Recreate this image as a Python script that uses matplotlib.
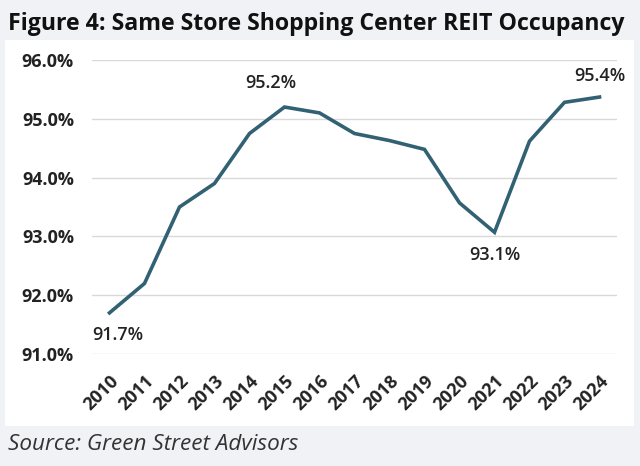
import matplotlib
matplotlib.use("Agg")
import matplotlib.pyplot as plt
from matplotlib.patches import Rectangle
from matplotlib.transforms import ScaledTranslation

# data
years     = [2010, 2011, 2012, 2013, 2014, 2015, 2016, 2017, 2018, 2019, 2020, 2021, 2022, 2023, 2024]
occupancy = [91.7, 92.2, 93.5, 93.9, 94.75, 95.2, 95.1, 94.75, 94.63, 94.48, 93.57, 93.07, 94.62, 95.28, 95.37]
yticks    = [91.0, 92.0, 93.0, 94.0, 95.0, 96.0]
# which points get a value label, and where (offset in points)
labels    = {2010: (6, -16), 2015: (-10, 17), 2021: (0, -16), 2024: (0, 15)}

bg_gray   = "#f1f2f6"
line_col  = "#336174"
font      = "Open Sans"

fig = plt.figure(figsize=(6.4, 4.66), dpi=100)
fig.patch.set_facecolor(bg_gray)

# white panel behind the chart
panel = Rectangle((5/640, 1 - 426/466), 629/640, 386/466,
                  transform=fig.transFigure, facecolor="white", edgecolor="none")
fig.add_artist(panel)
panel.set_zorder(-1)

ax = fig.add_axes([92/640, 1 - 354/466, 525/640, 294/466])
ax.set_facecolor("none")
ax.set_zorder(2)

x = list(range(len(years)))
ax.plot(x, occupancy, color=line_col, lw=2.6, solid_joinstyle="miter", zorder=3)

for i, (yr, val) in enumerate(zip(years, occupancy)):
    if yr in labels:
        ax.annotate(f"{val:.1f}%", (i, val), xytext=labels[yr], textcoords="offset points",
                    ha="center", va="center", fontsize=13, family=font,
                    fontweight="semibold", color="#222222")

ax.set_xlim(-0.5, len(years) - 0.5)
ax.set_ylim(91, 96)
ax.set_yticks(yticks)
ax.set_yticklabels([f"{t:.1f}%" for t in yticks], family=font, fontweight="bold",
                   fontsize=13, color="#222222")
ax.set_xticks(x)
ax.set_xticklabels([str(y) for y in years], rotation=45, ha="right", rotation_mode="anchor",
                   family=font, fontweight="bold", fontsize=13, color="#222222")
shift = ScaledTranslation(1/100, 0, fig.dpi_scale_trans)
for lab in ax.get_xticklabels():
    lab.set_transform(lab.get_transform() + shift)
ax.tick_params(length=0)
ax.tick_params(axis="x", pad=13)
ax.tick_params(axis="y", pad=13)
ax.grid(axis="y", color="#d9d9d9", lw=1)
ax.set_axisbelow(True)
for s in ax.spines.values():
    s.set_visible(False)

fig.text(8/640, 1 - 24/466, "Figure 4: Same Store Shopping Center REIT Occupancy",
         family=font, fontweight="bold", fontsize=16.7, color="#111111", va="center")
fig.text(8/640, 1 - 445/466, "Source: Green Street Advisors",
         family=font, style="italic", fontsize=16.2, color="#333333", va="center")

fig.savefig("out.png", dpi=100, facecolor=fig.get_facecolor())
